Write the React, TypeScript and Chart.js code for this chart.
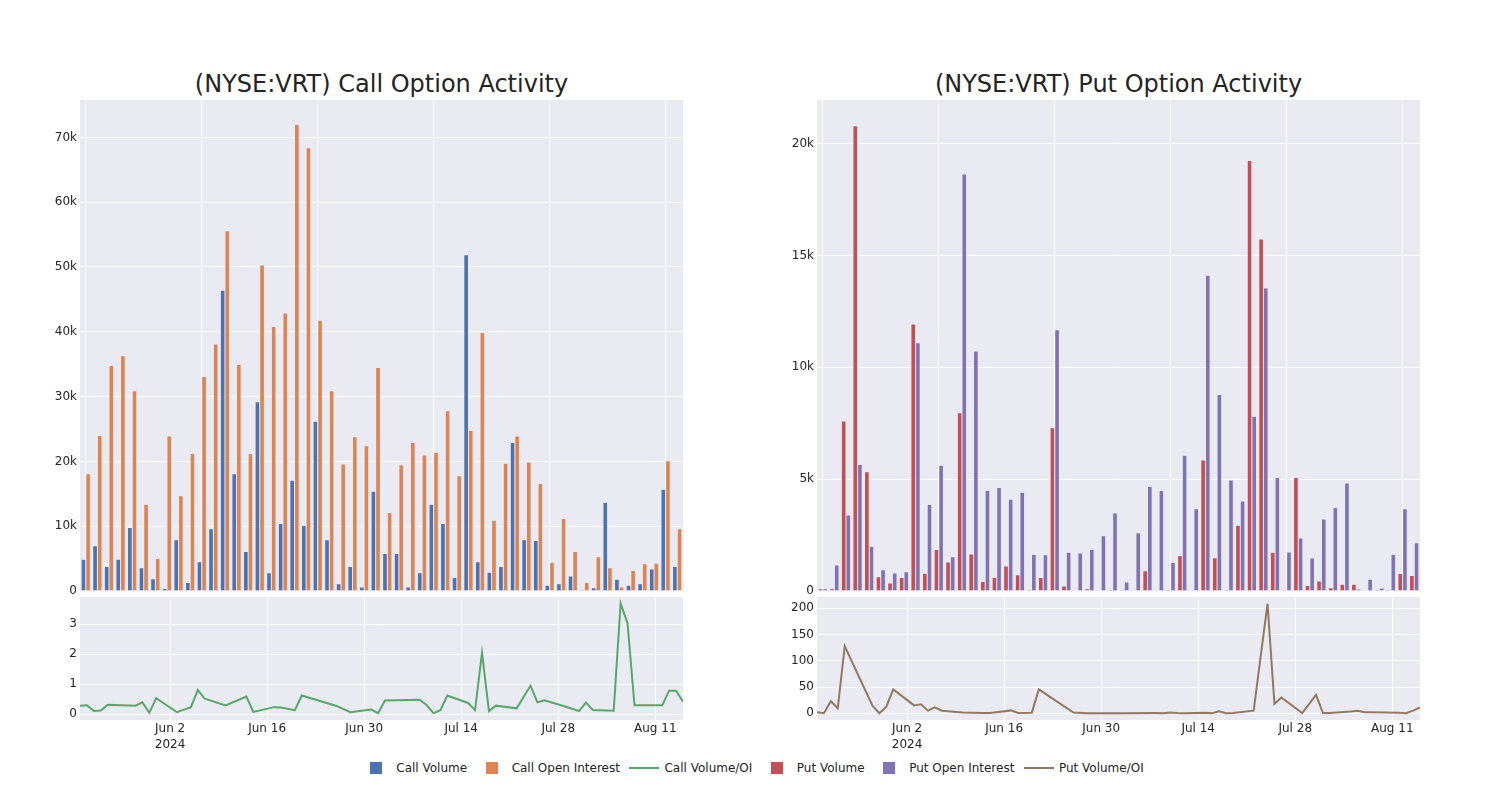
import React, { useEffect, useRef } from "react";
import { Chart, registerables } from "chart.js";

Chart.register(...registerables);

// ---------- data ----------
const dates = [
  "2024-05-20", "2024-05-21", "2024-05-22", "2024-05-23", "2024-05-24",
  "2024-05-28", "2024-05-29", "2024-05-30", "2024-05-31",
  "2024-06-03", "2024-06-04", "2024-06-05", "2024-06-06", "2024-06-07",
  "2024-06-10", "2024-06-13", "2024-06-14",
  "2024-06-17", "2024-06-18", "2024-06-20", "2024-06-21",
  "2024-06-26", "2024-06-28",
  "2024-07-01", "2024-07-02", "2024-07-03",
  "2024-07-08", "2024-07-09", "2024-07-10", "2024-07-11", "2024-07-12",
  "2024-07-15", "2024-07-16", "2024-07-17", "2024-07-18", "2024-07-19",
  "2024-07-22", "2024-07-24", "2024-07-25", "2024-07-26",
  "2024-07-29", "2024-07-31", "2024-08-01", "2024-08-02",
  "2024-08-05", "2024-08-06", "2024-08-07", "2024-08-08",
  "2024-08-12", "2024-08-13", "2024-08-14", "2024-08-15",
];

const callVolume = [
  4900, 7000, 3800, 4900, 9800, 3600, 1900, 400, 7900, 1300,
  4500, 9600, 46400, 18100, 6100, 29200, 2800, 10400, 17100, 10100,
  26200, 7900, 1100, 3800, 600, 15400, 5800, 5800, 600, 2800,
  13400, 10400, 2100, 51900, 4500, 2900, 3800, 22900, 7900, 7800,
  900, 1100, 2300, 170, 500, 13700, 1800, 900, 1100, 3400,
  15700, 3800,
];

const callOpenInterest = [
  18100, 24000, 34800, 36300, 30900, 13400, 5000, 23900, 14700, 21200,
  33100, 38100, 55600, 35000, 21200, 50300, 40800, 42900, 72000, 68400,
  41800, 30900, 19600, 23800, 22400, 34500, 12100, 19500, 22900, 21000,
  21400, 27800, 17800, 24800, 39900, 10900, 19700, 23900, 19900, 16600,
  4400, 11200, 6100, 1300, 5300, 3600, 600, 3200, 4200, 4300,
  20100, 9600,
];

const callVolumeOI = [
  0.28, 0.29, 0.10, 0.12, 0.31, 0.28, 0.39, 0.04, 0.53, 0.06,
  0.145, 0.23, 0.80, 0.51, 0.29, 0.58, 0.07, 0.23, 0.22, 0.13,
  0.62, 0.27, 0.06, 0.15, 0.03, 0.45, 0.48, 0.30, 0.03, 0.13,
  0.62, 0.37, 0.13, 2.05, 0.10, 0.28, 0.19, 0.95, 0.39, 0.46,
  0.25, 0.10, 0.38, 0.13, 0.11, 3.70, 3.03, 0.29, 0.29, 0.78,
  0.78, 0.41,
];

const putVolume = [
  100, 100, 7600, 20800, 5330, 640, 360, 600, 11940, 790,
  1850, 1300, 7970, 1650, 430, 610, 1120, 730, 60, 600,
  7300, 220, 20, 100, 20, 70, 40, 30, 900, 0,
  60, 1580, 30, 5860, 1490, 70, 2940, 19240, 15740, 1730,
  40, 5070, 250, 450, 150, 300, 300, 20, 70, 70,
  780, 690,
];

const putOpenInterest = [
  100, 1160, 3400, 5660, 2000, 950, 800, 860, 11100, 3870,
  5620, 1530, 18640, 10730, 4500, 4630, 4100, 4410, 1640, 1620,
  11680, 1730, 1700, 1850, 2470, 3490, 400, 2600, 4680, 4490,
  1270, 6070, 3680, 14110, 8780, 4960, 4020, 7810, 13550, 5070,
  1740, 2370, 1480, 3220, 3730, 4830, 90, 520, 130, 1640,
  3680, 2160,
];

const putVolumeOI = [
  2, 0, 23, 9.5, 128, 14.5, 0, 12.5, 45.5, 15,
  17, 5, 11.5, 5, 1.5, 0.7, 0.6, 5.5, 0.6, 1.2,
  45.5, 1.3, 0.1, 0.1, 0.2, 0.1, 0.3, 0.2, 1.3, 0.5,
  0.2, 1.0, 0.2, 4, 0.1, 0.4, 5, 209, 18, 30,
  0.3, 35, 0.5, 0.6, 3.5, 5, 2, 2, 1, 0.2,
  5, 11,
];

const xTickDates = ["2024-06-02", "2024-06-16", "2024-06-30", "2024-07-14", "2024-07-28", "2024-08-11"];
const xTickLabels: (string | string[])[] = [["Jun 2", "2024"], "Jun 16", "Jun 30", "Jul 14", "Jul 28", "Aug 11"];
const xRangeDates = ["2024-05-20", "2024-08-15"];

const callBarTicks = [0, 10000, 20000, 30000, 40000, 50000, 60000, 70000];
const putBarTicks = [0, 5000, 10000, 15000, 20000];
const callLineTicks = [0, 1, 2, 3];
const putLineTicks = [0, 50, 100, 150, 200];

const callBarRange = [0, 75770];
const putBarRange = [0, 21950];
const callLineRange = [-0.2, 3.91];
const putLineRange = [-12.8, 221.5];

const legendItems = [
  { label: "Call Volume", color: "#4C72B0", kind: "bar" },
  { label: "Call Open Interest", color: "#DD8452", kind: "bar" },
  { label: "Call Volume/OI", color: "#55A868", kind: "line" },
  { label: "Put Volume", color: "#C44E52", kind: "bar" },
  { label: "Put Open Interest", color: "#8172B3", kind: "bar" },
  { label: "Put Volume/OI", color: "#937860", kind: "line" },
];

// ---------- styling helpers ----------
const FONT = "'DejaVu Sans', sans-serif";
const TEXT = "#242424";
const PLOT_BG = "#EAEAF2";

const dayOf = (s: string) => Date.parse(s) / 86400000;
const fmtK = (v: number) => (v === 0 ? "0" : `${v / 1000}k`);

const bgPlugin = {
  id: "plotBg",
  beforeDraw(chart: any) {
    const { ctx, chartArea: a } = chart;
    if (!a) return;
    ctx.save();
    ctx.fillStyle = PLOT_BG;
    ctx.fillRect(a.left, a.top, a.right - a.left, a.bottom - a.top);
    ctx.restore();
  },
};

const tickFont = { family: FONT, size: 12 };

function yScale(range: number[], ticks: number[], fmt: (v: number) => string) {
  return {
    min: range[0],
    max: range[1],
    afterBuildTicks: (s: any) => {
      s.ticks = ticks.map((v) => ({ value: v }));
    },
    afterFit: (s: any) => {
      s.width = 80;
      s.paddingTop = 0;
      s.paddingBottom = 0;
    },
    grid: { color: "#ffffff", lineWidth: 1, drawTicks: false },
    border: { display: false },
    ticks: { padding: 3, font: tickFont, color: TEXT, callback: (v: any) => fmt(Number(v)) },
  };
}

function barConfig(a: number[], b: number[], ca: string, cb: string, range: number[], ticks: number[]) {
  return {
    type: "bar",
    data: {
      labels: dates,
      datasets: [
        { data: a, backgroundColor: ca, borderColor: PLOT_BG, borderWidth: 0.5, categoryPercentage: 0.8, barPercentage: 1 },
        { data: b, backgroundColor: cb, borderColor: PLOT_BG, borderWidth: 0.5, categoryPercentage: 0.8, barPercentage: 1 },
      ],
    },
    options: {
      animation: false,
      responsive: false,
      maintainAspectRatio: false,
      layout: { padding: { top: 5, right: 5, bottom: 4, left: 0 } },
      plugins: { legend: { display: false }, tooltip: { enabled: false } },
      scales: {
        x: {
          type: "category",
          offset: true,
          grid: {
            offset: false,
            drawTicks: false,
            lineWidth: 1,
            color: (c: any) => (c.index % 10 === 0 ? "#ffffff" : "rgba(0,0,0,0)"),
          },
          border: { display: false },
          ticks: { display: false },
          afterFit: (s: any) => {
            s.height = 0;
            s.paddingLeft = 0;
            s.paddingRight = 0;
          },
        },
        y: yScale(range, ticks, fmtK),
      },
    },
    plugins: [bgPlugin],
  };
}

function lineConfig(vals: number[], color: string, range: number[], ticks: number[]) {
  const tickDays = xTickDates.map(dayOf);
  return {
    type: "line",
    data: {
      datasets: [
        {
          data: dates.map((d, i) => ({ x: dayOf(d), y: vals[i] })),
          borderColor: color,
          backgroundColor: color,
          borderWidth: 2,
          pointRadius: 0,
          tension: 0,
          fill: false,
        },
      ],
    },
    options: {
      animation: false,
      responsive: false,
      maintainAspectRatio: false,
      layout: { padding: { top: 5, right: 5, bottom: 0, left: 0 } },
      plugins: { legend: { display: false }, tooltip: { enabled: false } },
      scales: {
        x: {
          type: "linear",
          min: dayOf(xRangeDates[0]),
          max: dayOf(xRangeDates[1]),
          afterBuildTicks: (s: any) => {
            s.ticks = tickDays.map((v) => ({ value: v }));
          },
          afterFit: (s: any) => {
            s.height = 40;
            s.paddingLeft = 0;
            s.paddingRight = 0;
          },
          grid: { color: "#ffffff", lineWidth: 1, drawTicks: false },
          border: { display: false },
          ticks: {
            autoSkip: false,
            maxRotation: 0,
            padding: 1,
            font: { ...tickFont, lineHeight: 1.3 },
            color: TEXT,
            callback: (v: any) => {
              const i = tickDays.findIndex((t) => Math.abs(t - Number(v)) < 0.01);
              return i >= 0 ? xTickLabels[i] : "";
            },
          },
        },
        y: yScale(range, ticks, (v) => String(v)),
      },
    },
    plugins: [bgPlugin],
  };
}

function ChartCanvas({ config, left, top, width, height }: any) {
  const ref = useRef<HTMLCanvasElement | null>(null);
  useEffect(() => {
    if (!ref.current) return;
    const chart = new Chart(ref.current, config as any);
    return () => chart.destroy();
  }, []);
  return (
    <canvas
      ref={ref}
      width={width}
      height={height}
      style={{ position: "absolute", left, top, width, height, display: "block" }}
    />
  );
}

function Title({ text, left }: { text: string; left: number }) {
  return (
    <div
      style={{
        position: "absolute",
        left,
        top: 72,
        width: 603,
        textAlign: "center",
        fontFamily: FONT,
        fontSize: 24,
        lineHeight: "24px",
        color: TEXT,
        whiteSpace: "nowrap",
      }}
    >
      {text}
    </div>
  );
}

function Legend() {
  return (
    <div
      style={{
        position: "absolute",
        left: 0,
        top: 760,
        width: 1500,
        height: 16,
        display: "flex",
        justifyContent: "center",
        alignItems: "center",
        gap: 4.5,
        fontFamily: FONT,
        fontSize: 12,
        color: TEXT,
      }}
    >
      {legendItems.map((it) => (
        <div key={it.label} style={{ display: "flex", alignItems: "center", height: 16 }}>
          <div style={{ width: 40, height: 16, display: "flex", alignItems: "center", justifyContent: "center" }}>
            {it.kind === "bar" ? (
              <div style={{ width: 12, height: 12, background: it.color }} />
            ) : (
              <div style={{ width: 30, height: 2, background: it.color }} />
            )}
          </div>
          <span style={{ whiteSpace: "nowrap", lineHeight: "16px" }}>{it.label}</span>
        </div>
      ))}
    </div>
  );
}

export default function App() {
  return (
    <div style={{ position: "fixed", left: 0, top: 0, width: 1500, height: 800, background: "#ffffff", overflow: "hidden" }}>
      <Title text="(NYSE:VRT) Call Option Activity" left={80} />
      <Title text="(NYSE:VRT) Put Option Activity" left={817} />
      <ChartCanvas
        config={barConfig(callVolume, callOpenInterest, "#4C72B0", "#DD8452", callBarRange, callBarTicks)}
        left={0}
        top={95}
        width={688}
        height={500}
      />
      <ChartCanvas
        config={lineConfig(callVolumeOI, "#55A868", callLineRange, callLineTicks)}
        left={0}
        top={592}
        width={688}
        height={168}
      />
      <ChartCanvas
        config={barConfig(putVolume, putOpenInterest, "#C44E52", "#8172B3", putBarRange, putBarTicks)}
        left={737}
        top={95}
        width={688}
        height={500}
      />
      <ChartCanvas
        config={lineConfig(putVolumeOI, "#937860", putLineRange, putLineTicks)}
        left={737}
        top={592}
        width={688}
        height={168}
      />
      <Legend />
    </div>
  );
}
